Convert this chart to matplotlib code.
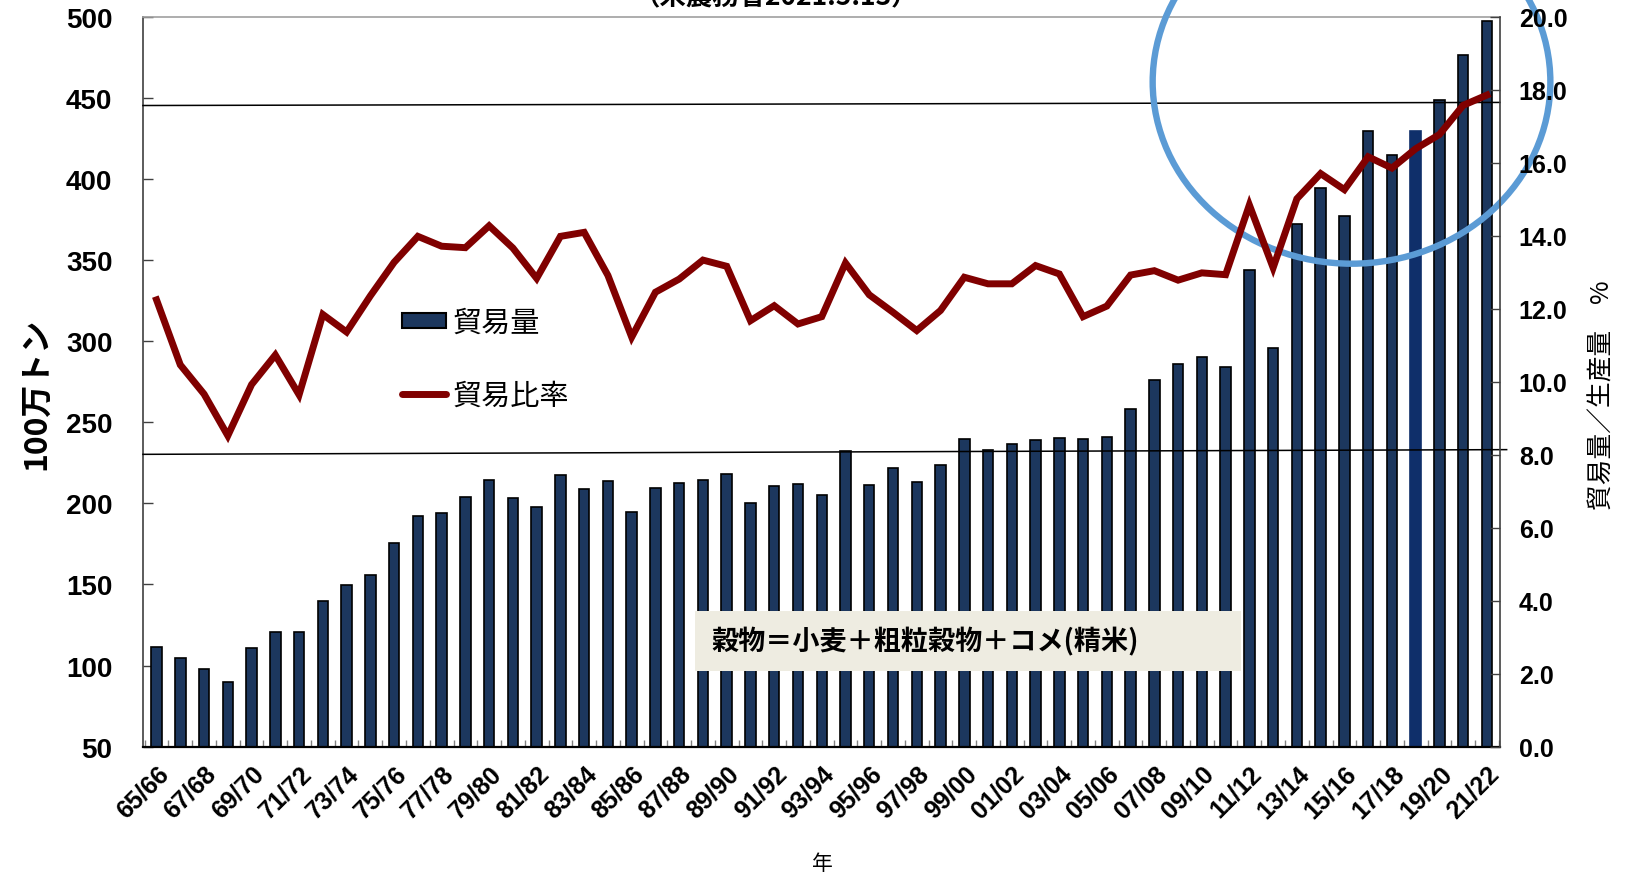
import matplotlib
matplotlib.use("Agg")
import matplotlib.pyplot as plt
from matplotlib.patches import Ellipse, Rectangle, Patch
from matplotlib.lines import Line2D
import numpy as np

plt.rcParams['font.family'] = ['Liberation Sans', 'Noto Sans CJK JP', 'DejaVu Sans']

# ---------------- data ----------------
years = ["65/66", "66/67", "67/68", "68/69", "69/70", "70/71", "71/72", "72/73", "73/74", "74/75",
         "75/76", "76/77", "77/78", "78/79", "79/80", "80/81", "81/82", "82/83", "83/84", "84/85",
         "85/86", "86/87", "87/88", "88/89", "89/90", "90/91", "91/92", "92/93", "93/94", "94/95",
         "95/96", "96/97", "97/98", "98/99", "99/00", "00/01", "01/02", "02/03", "03/04", "04/05",
         "05/06", "06/07", "07/08", "08/09", "09/10", "10/11", "11/12", "12/13", "13/14", "14/15",
         "15/16", "16/17", "17/18", "18/19", "19/20", "20/21", "21/22"]

trade_volume = [111.6, 104.5, 97.7, 90.1, 111.0, 120.9, 120.9, 140.0, 149.9, 155.8,
                175.6, 192.0, 194.2, 203.9, 214.4, 203.3, 197.7, 217.6, 208.8, 214.0,
                194.8, 209.3, 212.6, 214.6, 218.1, 200.2, 210.5, 212.1, 205.0, 232.1,
                211.1, 221.6, 213.4, 223.5, 239.9, 232.7, 236.8, 239.3, 240.3, 239.5,
                240.7, 258.2, 276.1, 285.8, 290.1, 284.2, 343.6, 295.7, 372.2, 394.2,
                377.2, 429.2, 415.0, 429.4, 448.8, 476.5, 497.3]

trade_ratio = [12.24, 10.46, 9.66, 8.52, 9.92, 10.73, 9.64, 11.84, 11.36, 12.35,
               13.27, 13.98, 13.71, 13.67, 14.27, 13.66, 12.83, 13.98, 14.09, 12.91,
               11.22, 12.45, 12.81, 13.33, 13.16, 11.67, 12.08, 11.58, 11.78, 13.25,
               12.38, 11.90, 11.40, 11.95, 12.86, 12.68, 12.68, 13.18, 12.95, 11.78,
               12.07, 12.92, 13.04, 12.78, 12.98, 12.93, 14.84, 13.12, 15.01, 15.70,
               15.26, 16.16, 15.85, 16.38, 16.77, 17.57, 17.85]

highlight_year = "18/19"
left_ticks = [50, 100, 150, 200, 250, 300, 350, 400, 450, 500]
right_ticks = [0, 2, 4, 6, 8, 10, 12, 14, 16, 18, 20]

# ---------------- figure ----------------
W, H = 1626, 879
fig = plt.figure(figsize=(W / 100, H / 100), dpi=100)
fig.patch.set_facecolor("white")

L, R, T, B = 143, 1500, 17.6, 747.7
ax = fig.add_axes([L / W, 1 - B / H, (R - L) / W, (B - T) / H])
ax2 = ax.twinx()

x = np.arange(len(years))
navy = "#1c375e"
red = "#800000"

colors = [("#0f2f6a" if y == highlight_year else navy) for y in years]
edges = [("#0f2f6a" if y == highlight_year else "black") for y in years]
ax.bar(x, trade_volume, width=0.44, color=colors, edgecolor=edges, linewidth=1.2, zorder=2)

ax.set_xlim(-0.57, 56.55)
ax.set_ylim(50, 500)
ax.set_yticks(left_ticks)
ax.set_yticklabels([str(v) for v in left_ticks], fontsize=20, fontweight="bold")
ax.tick_params(axis="y", direction="in", length=7, width=1, color="#404040", pad=22)

ax.set_xticks(x[::2])
ax.set_xticklabels(years[::2], rotation=45, ha="right", rotation_mode="anchor",
                   fontsize=18, fontweight="bold")
ax.tick_params(axis="x", which="major", length=0, pad=10)
ax.set_xticks(np.arange(-0.5, len(years), 1), minor=True)
ax.tick_params(axis="x", which="minor", direction="in", length=5, width=1, color="#808080")

ax2.set_ylim(0, 20)
ax2.set_yticks(right_ticks)
ax2.set_yticklabels([f"{v:.1f}" for v in right_ticks], fontsize=18, fontweight="bold")
ax2.tick_params(axis="y", direction="in", length=7, width=1, color="#404040", pad=13.5)
ax2.plot(x, trade_ratio, color=red, lw=5, solid_joinstyle="miter", zorder=3)

for s in ax.spines.values():
    s.set_linewidth(1.2)
ax.spines["left"].set_color("#404040")
ax.spines["top"].set_color("#a0a0a0")
ax.spines["bottom"].set_color("black")
ax.spines["bottom"].set_linewidth(1.6)
ax.spines["right"].set_visible(False)
for k in ["left", "top", "bottom"]:
    ax2.spines[k].set_visible(False)
ax2.spines["right"].set_color("#404040")
ax2.spines["right"].set_linewidth(1.2)

# hand-drawn reference lines
ax.plot([-0.57, 56.83], [230.2, 233.1], color="black", lw=1.1, clip_on=False, zorder=5)
ax.plot([-0.57, 56.55], [445.2, 447.1], color="black", lw=1.1, clip_on=False, zorder=5)

# highlight ellipse
ell = Ellipse((50.3, 459.7), width=16.74, height=224, fill=False,
              edgecolor="#5b9bd5", lw=4.6, clip_on=False, zorder=6)
ax.add_patch(ell)

# legend
handles = [Patch(facecolor=navy, edgecolor="black", linewidth=1.5),
           Line2D([], [], color=red, lw=5, solid_capstyle="round")]
leg = ax2.legend(handles, ["貿易量", "貿易比率"], loc="upper left",
                 bbox_to_anchor=(402 / W, 1 - 309 / H), bbox_transform=fig.transFigure,
                 frameon=False, borderpad=0, borderaxespad=0,
                 handlelength=1.5, handleheight=0.42, handletextpad=0.22,
                 labelspacing=1.45, prop={"family": ["Noto Sans CJK JP"], "size": 21})

# note box
fig.add_artist(Rectangle((695 / W, 1 - 672 / H), 546 / W, 60 / H, transform=fig.transFigure,
                         facecolor="#eeece1", edgecolor="none", zorder=4))
fig.text(711 / W, 1 - 642 / H, "穀物＝小麦＋粗粒穀物＋コメ(精米)", ha="left", va="center",
         fontsize=19.5, fontweight="bold", family=["Noto Sans CJK JP"], zorder=5)

# axis labels & top (cut) title
fig.text(36 / W, 1 - 394 / H, "100万トン", rotation=90, ha="center", va="center",
         fontsize=23, fontweight="bold", family=["Noto Sans CJK JP"])
fig.text(1602 / W, 1 - 395 / H, "貿易量／生産量　%", rotation=90, ha="center", va="center",
         fontsize=18.5, family=["Noto Sans CJK JP"])
fig.text(822 / W, 1 - 864 / H, "年", ha="center", va="center", fontsize=15,
         family=["Noto Sans CJK JP"])
fig.text(776 / W, 1 - 5 / H, "（米農務省2021.5.13）", ha="center", va="baseline",
         fontsize=19, fontweight="bold", family=["Noto Sans CJK JP"])

fig.savefig("out.png", dpi=100)
